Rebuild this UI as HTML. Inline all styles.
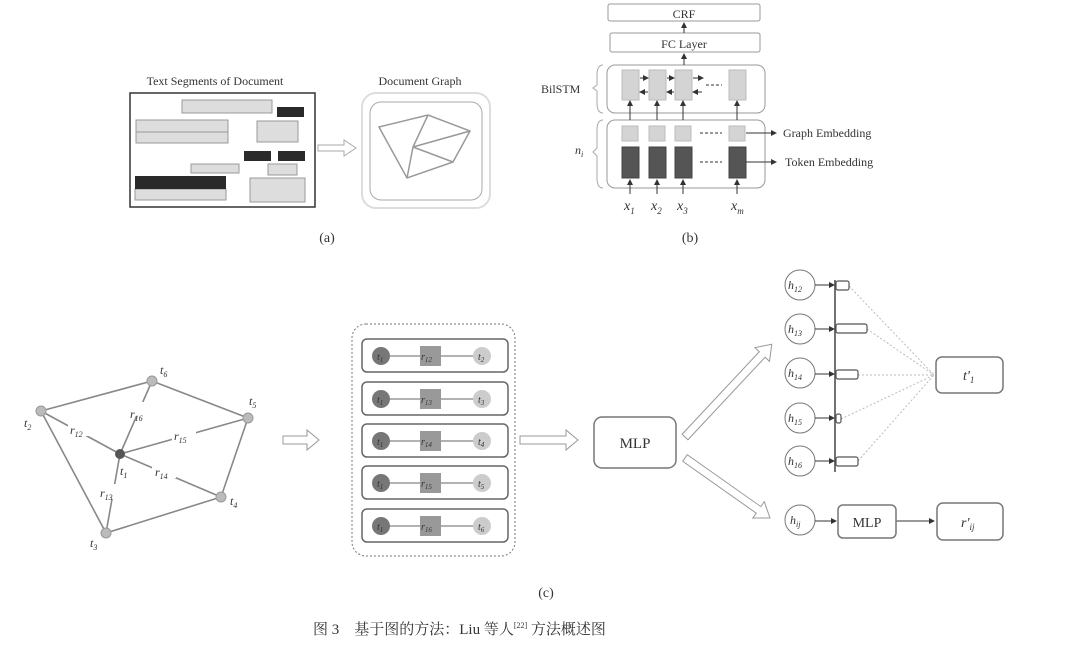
<!DOCTYPE html>
<html><head><meta charset="utf-8"><style>
html,body{margin:0;padding:0;background:#fff;}
svg{display:block;}
text{font-family:"Liberation Serif","Noto Serif CJK SC",serif;fill:#333;}
</style></head><body>
<svg width="1080" height="651" viewBox="0 0 1080 651" xmlns="http://www.w3.org/2000/svg">
<defs>
<marker id="ah" markerWidth="6" markerHeight="6" refX="5" refY="3" orient="auto"><path d="M0,0 L6,3 L0,6z" fill="#333"/></marker>
</defs>
<!-- (a) -->
<text x="215" y="85" font-size="12" text-anchor="middle">Text Segments of Document</text>
<rect x="130" y="93" width="185" height="114" fill="#fff" stroke="#333" stroke-width="1.5"/>
<g stroke="#999" fill="#ddd">
<rect x="182" y="100" width="90" height="13"/>
<rect x="136" y="120" width="92" height="12"/><rect x="136" y="132" width="92" height="11"/>
<rect x="257" y="121" width="41" height="21"/>
<rect x="191" y="164" width="48" height="9"/>
<rect x="268" y="164" width="29" height="11"/>
<rect x="135" y="189" width="91" height="11"/>
<rect x="250" y="178" width="55" height="24"/>
</g>
<g fill="#2a2a2a">
<rect x="277" y="107" width="27" height="10"/>
<rect x="244" y="151" width="27" height="10"/><rect x="278" y="151" width="27" height="10"/>
<rect x="135" y="176" width="91" height="13"/>
</g>
<g transform="translate(318,148)"><polygon points="0,-3 26,-3 26,-8 38,0 26,8 26,3 0,3" fill="#fff" stroke="#aaa"/></g>
<text x="420" y="85" font-size="12" text-anchor="middle">Document Graph</text>
<rect x="362" y="93" width="128" height="115" rx="14" fill="#fff" stroke="#ddd" stroke-width="2"/>
<rect x="370" y="102" width="112" height="98" rx="11" fill="#fff" stroke="#aaa"/>
<g stroke="#999" stroke-width="1.5" fill="none">
<polygon points="379,127 428,115 470,131 453,162 407,178"/>
<line x1="413" y1="147" x2="428" y2="115"/><line x1="413" y1="147" x2="470" y2="131"/><line x1="413" y1="147" x2="453" y2="162"/><line x1="413" y1="147" x2="407" y2="178"/>
</g>
<text x="327" y="242" font-size="14" text-anchor="middle">(a)</text>
<!-- (b) -->
<g stroke="#999" fill="#fff">
<rect x="608" y="4" width="152" height="17" rx="2"/>
<rect x="610" y="33" width="150" height="19" rx="2"/>
<rect x="607" y="65" width="158" height="48" rx="8"/>
<rect x="607" y="120" width="158" height="68" rx="8"/>
</g>
<text x="684" y="18" font-size="12" text-anchor="middle">CRF</text>
<text x="684" y="48" font-size="12" text-anchor="middle">FC Layer</text>
<g stroke="#333" stroke-width="1" marker-end="url(#ah)">
<line x1="684" y1="33" x2="684" y2="23"/><line x1="684" y1="65" x2="684" y2="54"/>
</g>
<g fill="#d4d4d4" stroke="#bbb">
<rect x="622" y="70" width="17" height="30"/><rect x="649" y="70" width="17" height="30"/><rect x="675" y="70" width="17" height="30"/><rect x="729" y="70" width="17" height="30"/>
<rect x="622" y="126" width="16" height="15"/><rect x="649" y="126" width="16" height="15"/><rect x="675" y="126" width="16" height="15"/><rect x="729" y="126" width="16" height="15"/>
</g>
<g fill="#555" stroke="#444">
<rect x="622" y="147" width="17" height="31"/><rect x="649" y="147" width="17" height="31"/><rect x="675" y="147" width="17" height="31"/><rect x="729" y="147" width="17" height="31"/>
</g>
<g stroke="#333" stroke-width="1" marker-end="url(#ah)">
<line x1="640" y1="78" x2="648" y2="78"/><line x1="667" y1="78" x2="674" y2="78"/><line x1="693" y1="78" x2="703" y2="78"/>
<line x1="648" y1="92" x2="640" y2="92"/><line x1="674" y1="92" x2="667" y2="92"/><line x1="702" y1="92" x2="693" y2="92"/>
<line x1="630" y1="120" x2="630" y2="101"/><line x1="657" y1="120" x2="657" y2="101"/><line x1="683" y1="120" x2="683" y2="101"/><line x1="737" y1="120" x2="737" y2="101"/>
<line x1="630" y1="194" x2="630" y2="180"/><line x1="657" y1="194" x2="657" y2="180"/><line x1="683" y1="194" x2="683" y2="180"/><line x1="737" y1="194" x2="737" y2="180"/>
<line x1="746" y1="133" x2="776" y2="133"/><line x1="746" y1="162" x2="776" y2="162"/>
</g>
<g stroke="#333" stroke-dasharray="3,2"><line x1="706" y1="85" x2="722" y2="85"/><line x1="700" y1="133" x2="722" y2="133"/><line x1="700" y1="162" x2="722" y2="162"/></g>
<text x="783" y="137" font-size="12">Graph Embedding</text>
<text x="785" y="166" font-size="12">Token Embedding</text>
<text x="541" y="93" font-size="12">BilSTM</text>
<path d="M603,65 Q597,65 597,75 L597,85 L593,88 L597,91 L597,103 Q597,113 603,113" fill="none" stroke="#aaa"/>
<path d="M603,120 Q597,120 597,130 L597,148 L593,152 L597,156 L597,178 Q597,188 603,188" fill="none" stroke="#aaa"/>
<text x="575" y="154" font-size="12" font-style="italic">n<tspan font-size="8" dy="3">i</tspan></text>
<g font-size="14" font-style="italic">
<text x="624" y="210">x<tspan font-size="9" dy="4">1</tspan></text>
<text x="651" y="210">x<tspan font-size="9" dy="4">2</tspan></text>
<text x="677" y="210">x<tspan font-size="9" dy="4">3</tspan></text>
<text x="731" y="210">x<tspan font-size="9" dy="4">m</tspan></text>
</g>
<text x="690" y="242" font-size="14" text-anchor="middle">(b)</text>
<!-- (c) graph -->
<g stroke="#888" stroke-width="1.6" fill="none">
<polygon points="41,411 152,381 248,418 221,497 106,533"/>
<line x1="120" y1="454" x2="41" y2="411"/><line x1="120" y1="454" x2="152" y2="381"/><line x1="120" y1="454" x2="248" y2="418"/><line x1="120" y1="454" x2="221" y2="497"/><line x1="120" y1="454" x2="106" y2="533"/>
</g>
<g fill="#bbb" stroke="#999"><circle cx="41" cy="411" r="5"/><circle cx="152" cy="381" r="5"/><circle cx="248" cy="418" r="5"/><circle cx="221" cy="497" r="5"/><circle cx="106" cy="533" r="5"/></g>
<circle cx="120" cy="454" r="5" fill="#555"/>
<g font-size="12" font-style="italic">
<rect x="68" y="422" width="24" height="14" fill="#fff"/><text x="70" y="434">r<tspan font-size="8" dy="3">12</tspan></text>
<rect x="129" y="402" width="22" height="14" fill="#fff"/><text x="130" y="418">r<tspan font-size="8" dy="3">16</tspan></text>
<rect x="172" y="429" width="24" height="14" fill="#fff"/><text x="174" y="440">r<tspan font-size="8" dy="3">15</tspan></text>
<rect x="152" y="464" width="24" height="14" fill="#fff"/><text x="155" y="476">r<tspan font-size="8" dy="3">14</tspan></text>
<rect x="99" y="484" width="24" height="15" fill="#fff"/><text x="100" y="497">r<tspan font-size="8" dy="3">13</tspan></text>
<text x="24" y="427">t<tspan font-size="8" dy="3">2</tspan></text>
<text x="160" y="374">t<tspan font-size="8" dy="3">6</tspan></text>
<text x="249" y="405">t<tspan font-size="8" dy="3">5</tspan></text>
<text x="230" y="505">t<tspan font-size="8" dy="3">4</tspan></text>
<text x="90" y="547">t<tspan font-size="8" dy="3">3</tspan></text>
<text x="120" y="475">t<tspan font-size="8" dy="3">1</tspan></text>
</g>
<g transform="translate(283,440)"><polygon points="0,-4 24,-4 24,-10 36,0 24,10 24,4 0,4" fill="#fff" stroke="#999"/></g>
<!-- container -->
<rect x="352" y="324" width="163" height="232" rx="14" fill="#fff" stroke="#777" stroke-dasharray="2,2"/>
<g font-size="11" font-style="italic">
<g id="rows"></g>
</g>
<g stroke="#666" stroke-width="1.5" fill="#fff">
<rect x="362" y="339" width="146" height="33" rx="5"/><rect x="362" y="382" width="146" height="33" rx="5"/><rect x="362" y="424" width="146" height="33" rx="5"/><rect x="362" y="466" width="146" height="33" rx="5"/><rect x="362" y="509" width="146" height="33" rx="5"/>
</g>
<g stroke="#666" stroke-width="1">
<line x1="381" y1="356" x2="482" y2="356"/><line x1="381" y1="399" x2="482" y2="399"/><line x1="381" y1="441" x2="482" y2="441"/><line x1="381" y1="483" x2="482" y2="483"/><line x1="381" y1="526" x2="482" y2="526"/>
</g>
<g fill="#777"><circle cx="381" cy="356" r="9"/><circle cx="381" cy="399" r="9"/><circle cx="381" cy="441" r="9"/><circle cx="381" cy="483" r="9"/><circle cx="381" cy="526" r="9"/></g>
<g fill="#999"><rect x="420" y="346" width="21" height="20"/><rect x="420" y="389" width="21" height="20"/><rect x="420" y="431" width="21" height="20"/><rect x="420" y="473" width="21" height="20"/><rect x="420" y="516" width="21" height="20"/></g>
<g fill="#ccc"><circle cx="482" cy="356" r="9"/><circle cx="482" cy="399" r="9"/><circle cx="482" cy="441" r="9"/><circle cx="482" cy="483" r="9"/><circle cx="482" cy="526" r="9"/></g>
<g font-size="10" font-style="italic" fill="#333">
<text x="377" y="360">t<tspan font-size="7" dy="2">1</tspan></text><text x="421" y="360">r<tspan font-size="7" dy="2">12</tspan></text><text x="478" y="360">t<tspan font-size="7" dy="2">2</tspan></text>
<text x="377" y="403">t<tspan font-size="7" dy="2">1</tspan></text><text x="421" y="403">r<tspan font-size="7" dy="2">13</tspan></text><text x="478" y="403">t<tspan font-size="7" dy="2">3</tspan></text>
<text x="377" y="445">t<tspan font-size="7" dy="2">1</tspan></text><text x="421" y="445">r<tspan font-size="7" dy="2">14</tspan></text><text x="478" y="445">t<tspan font-size="7" dy="2">4</tspan></text>
<text x="377" y="487">t<tspan font-size="7" dy="2">1</tspan></text><text x="421" y="487">r<tspan font-size="7" dy="2">15</tspan></text><text x="478" y="487">t<tspan font-size="7" dy="2">5</tspan></text>
<text x="377" y="530">t<tspan font-size="7" dy="2">1</tspan></text><text x="421" y="530">r<tspan font-size="7" dy="2">16</tspan></text><text x="478" y="530">t<tspan font-size="7" dy="2">6</tspan></text>
</g>
<g transform="translate(520,440)"><polygon points="0,-4 46,-4 46,-10 58,0 46,10 46,4 0,4" fill="#fff" stroke="#999"/></g>
<rect x="594" y="417" width="82" height="51" rx="8" fill="#fff" stroke="#777" stroke-width="1.5"/>
<text x="635" y="448" font-size="15" text-anchor="middle">MLP</text>
<g transform="translate(685,437) rotate(-46.9)"><polygon points="0,-4 113,-4 113,-10 127,0 113,10 113,4 0,4" fill="#fff" stroke="#999"/></g>
<g transform="translate(685,458) rotate(35.2)"><polygon points="0,-4 90,-4 90,-10 104,0 90,10 90,4 0,4" fill="#fff" stroke="#999"/></g>
<!-- right -->
<line x1="835" y1="280" x2="835" y2="472" stroke="#444" stroke-width="1.5"/>
<g stroke="#bbb" stroke-dasharray="2,2">
<line x1="849" y1="286" x2="934" y2="375"/><line x1="867" y1="329" x2="934" y2="375"/><line x1="858" y1="375" x2="934" y2="375"/><line x1="841" y1="419" x2="934" y2="375"/><line x1="858" y1="461" x2="934" y2="375"/>
</g>
<g fill="#fff" stroke="#555" stroke-width="1.2">
<rect x="836" y="281" width="13" height="9" rx="2"/><rect x="836" y="324" width="31" height="9" rx="2"/><rect x="836" y="370" width="22" height="9" rx="2"/><rect x="836" y="414" width="5" height="9" rx="2"/><rect x="836" y="457" width="22" height="9" rx="2"/>
</g>
<g fill="#fff" stroke="#777">
<circle cx="800" cy="285" r="15"/><circle cx="800" cy="329" r="15"/><circle cx="800" cy="373" r="15"/><circle cx="800" cy="418" r="15"/><circle cx="800" cy="461" r="15"/><circle cx="800" cy="520" r="15"/>
</g>
<g stroke="#333" marker-end="url(#ah)">
<line x1="815" y1="285" x2="834" y2="285"/><line x1="815" y1="329" x2="834" y2="329"/><line x1="815" y1="374" x2="834" y2="374"/><line x1="815" y1="418" x2="834" y2="418"/><line x1="815" y1="461" x2="834" y2="461"/>
<line x1="815" y1="521" x2="836" y2="521"/><line x1="896" y1="521" x2="934" y2="521"/>
</g>
<g font-size="12" font-style="italic">
<text x="788" y="289">h<tspan font-size="8" dy="3">12</tspan></text>
<text x="788" y="333">h<tspan font-size="8" dy="3">13</tspan></text>
<text x="788" y="377">h<tspan font-size="8" dy="3">14</tspan></text>
<text x="788" y="422">h<tspan font-size="8" dy="3">15</tspan></text>
<text x="788" y="465">h<tspan font-size="8" dy="3">16</tspan></text>
<text x="790" y="524">h<tspan font-size="8" dy="3">ij</tspan></text>
</g>
<rect x="936" y="357" width="67" height="36" rx="6" fill="#fff" stroke="#777" stroke-width="1.5"/>
<text x="963" y="380" font-size="14" font-style="italic">t'<tspan font-size="9" dy="3">1</tspan></text>
<rect x="838" y="505" width="58" height="33" rx="5" fill="#fff" stroke="#777" stroke-width="1.5"/>
<text x="867" y="527" font-size="14" text-anchor="middle">MLP</text>
<rect x="937" y="503" width="66" height="37" rx="6" fill="#fff" stroke="#777" stroke-width="1.5"/>
<text x="961" y="527" font-size="14" font-style="italic">r'<tspan font-size="9" dy="3">ij</tspan></text>
<text x="546" y="597" font-size="14" text-anchor="middle">(c)</text>
<text x="313" y="634" font-size="15">图 3　基于图的方法：Liu 等人<tspan font-size="8" dy="-6">[22]</tspan><tspan dy="6"> 方法概述图</tspan></text>
</svg>
</body></html>
